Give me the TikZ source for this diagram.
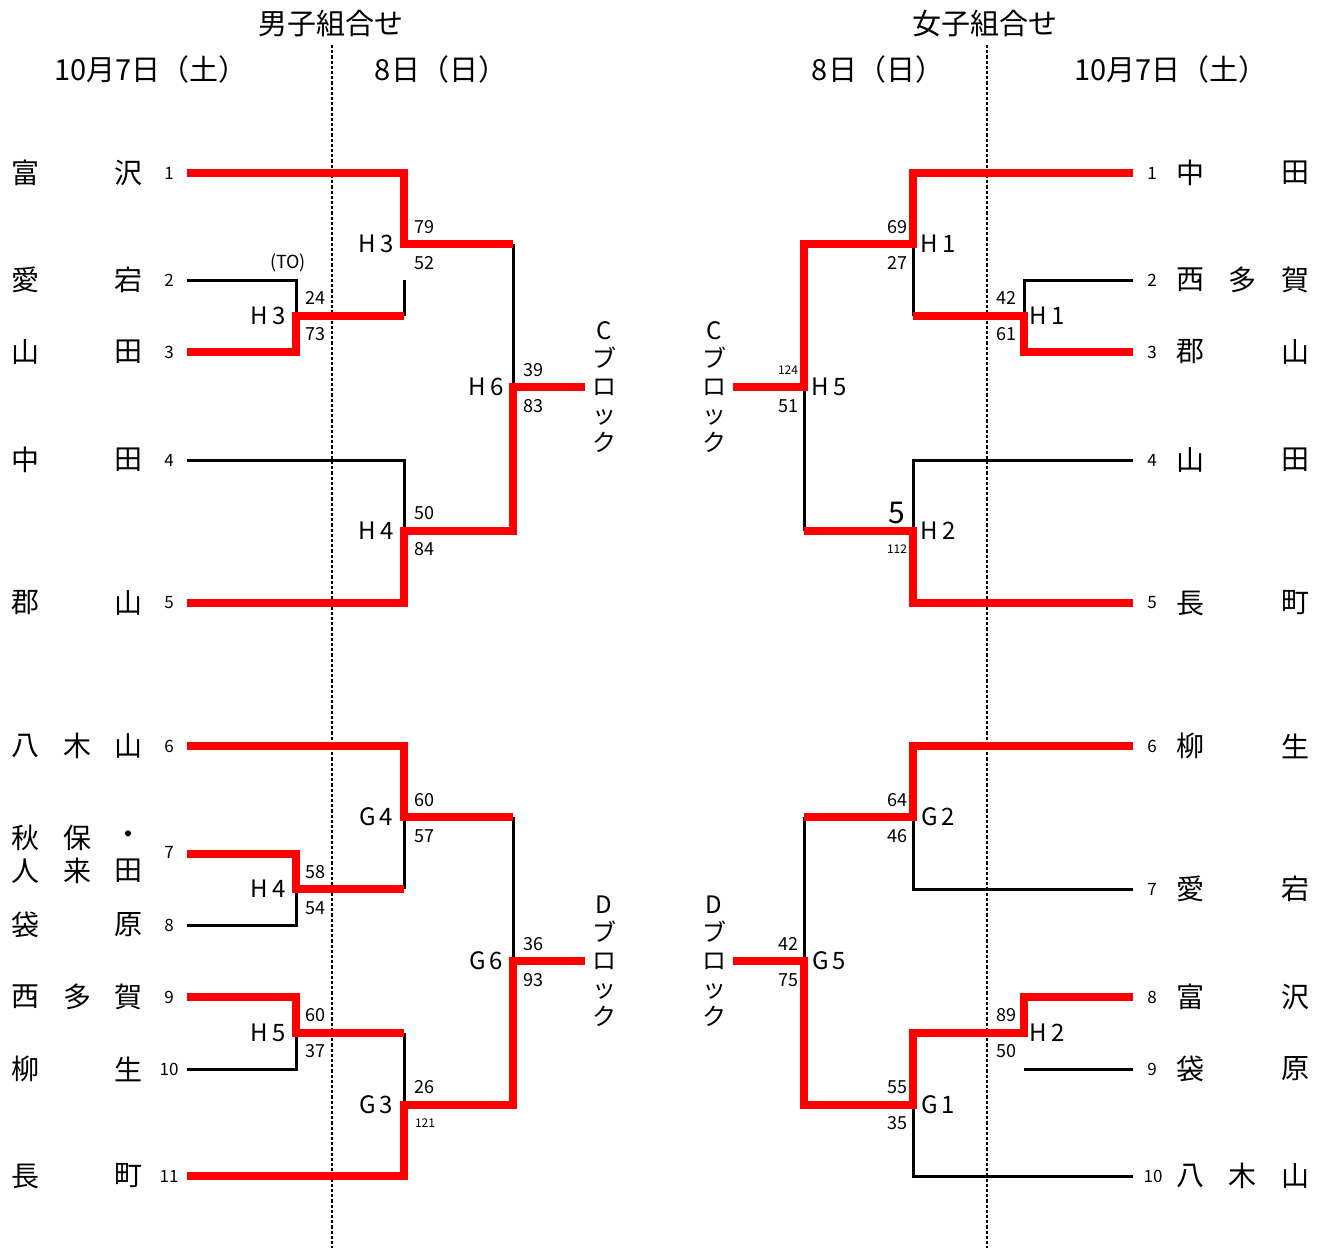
\documentclass[tikz,border=0pt]{standalone}
\usepackage{fontspec}
\setmainfont{Noto Sans CJK JP}
\usetikzlibrary{positioning}

\begin{document}
\begin{tikzpicture}[x=0.5pt,y=-0.5pt]
\tikzstyle{win}=[draw=red, line width=3.6pt]
\tikzstyle{lose}=[draw=black, line width=1.5pt]
\tikzstyle{divider}=[draw=black, line width=1.4pt, dash pattern=on 1.6pt off 1pt]
\tikzstyle{team}=[inner sep=0pt, font=\fontsize{14pt}{16pt}\selectfont]
\tikzstyle{seed}=[inner sep=0pt, font=\fontsize{8.5pt}{10pt}\selectfont]
\tikzstyle{match}=[inner sep=0pt, font=\fontsize{12pt}{14pt}\selectfont]
\tikzstyle{score}=[inner sep=0pt, font=\fontsize{9pt}{10pt}\selectfont]
\tikzstyle{tinynum}=[inner sep=0pt, font=\fontsize{6pt}{7pt}\selectfont]
\tikzstyle{blk}=[inner sep=0pt, align=center, font=\fontsize{12pt}{14pt}\selectfont]
\tikzstyle{hdr}=[inner sep=0pt, font=\fontsize{14.5pt}{16pt}\selectfont]
\useasboundingbox (0,0) rectangle (1325,1248);

% headings
\node[hdr] (mtitle) at (331,24) {男子組合せ};
\node[hdr] (mday1) at (151,69) {10月7日（土）};
\node[hdr] (mday2) at (441,69) {8日（日）};
\node[hdr] (wtitle) at (985,24) {女子組合せ};
\node[hdr] (wday2) at (878,69) {8日（日）};
\node[hdr] (wday1) at (1171,69) {10月7日（土）};
\coordinate (mtop) at (332,45); \coordinate (mbot) at (332,1248);
\coordinate (wtop) at (987,45); \coordinate (wbot) at (987,1248);
\draw[divider] (mtop) -- (mbot);
\draw[divider] (wtop) -- (wbot);

% men, team names
\node[team] (mn1a) at (25,173) {富}; \node[team] (mn1c) at (128,173) {沢};
\node[team] (mn2a) at (25,280) {愛}; \node[team] (mn2c) at (128,280) {宕};
\node[team] (mn3a) at (25,352) {山}; \node[team] (mn3c) at (128,352) {田};
\node[team] (mn4a) at (25,460) {中}; \node[team] (mn4c) at (128,460) {田};
\node[team] (mn5a) at (25,603) {郡}; \node[team] (mn5c) at (128,603) {山};
\node[team] (mn6a) at (25,746) {八}; \node[team] (mn6b) at (77,746) {木}; \node[team] (mn6c) at (128,746) {山};
\node[team] (mn7a) at (25,838) {秋}; \node[team] (mn7b) at (77,838) {保}; \node[team] (mn7c) at (128,838) {・};
\node[team] (mn7d) at (25,871) {人}; \node[team] (mn7e) at (77,871) {来}; \node[team] (mn7f) at (128,871) {田};
\node[team] (mn8a) at (25,925) {袋}; \node[team] (mn8c) at (128,925) {原};
\node[team] (mn9a) at (25,997) {西}; \node[team] (mn9b) at (77,997) {多}; \node[team] (mn9c) at (128,997) {賀};
\node[team] (mn10a) at (25,1069) {柳}; \node[team] (mn10c) at (128,1069) {生};
\node[team] (mn11a) at (25,1176) {長}; \node[team] (mn11c) at (128,1176) {町};
\node[seed] (ms1) at (169,173) {1};
\node[seed] (ms2) at (169,280) {2};
\node[seed] (ms3) at (169,352) {3};
\node[seed] (ms4) at (169,460) {4};
\node[seed] (ms5) at (169,603) {5};
\node[seed] (ms6) at (169,746) {6};
\node[seed] (ms7) at (169,852) {7};
\node[seed] (ms8) at (169,925) {8};
\node[seed] (ms9) at (169,997) {9};
\node[seed] (ms10) at (169,1069) {10};
\node[seed] (ms11) at (169,1176) {11};

% men, bracket
\coordinate (ma1) at (187,173); \coordinate (ma2) at (187,280);
\coordinate (ma3) at (187,352); \coordinate (ma4) at (187,460);
\coordinate (ma5) at (187,603); \coordinate (ma6) at (187,746);
\coordinate (ma7) at (187,854); \coordinate (ma8) at (187,925);
\coordinate (ma9) at (187,997); \coordinate (ma10) at (187,1069);
\coordinate (ma11) at (187,1176);
\coordinate (mjA) at (296,316); \coordinate (mjB) at (404,244);
\coordinate (mjC) at (404,531); \coordinate (mjD) at (513,387);
\coordinate (mjE) at (404,817); \coordinate (mjF) at (296,889);
\coordinate (mjG) at (296,1033); \coordinate (mjH) at (404,1105);
\coordinate (mjI) at (513,961);
\coordinate (mC) at (585,387); \coordinate (mD) at (585,961);
\coordinate (mgap) at (404,280);

\draw[lose] (ma2) -| (mjA);
\draw[lose] (mjA -| mjB) -- (mgap);
\draw[lose] (mjB -| mjD) -- (mjD);
\draw[lose] (ma4) -| (mjC);
\draw[win] (ma3) -| (mjA) -- (mjA -| mjB);
\draw[win] (ma1) -| (mjB) -- (mjB -| mjD);
\draw[win] (ma5) -| (mjC) -| (mjD) -- (mC);

\draw[lose] (mjE -| mjI) -- (mjI);
\draw[lose] (ma8) -| (mjF);
\draw[lose] (mjF -| mjE) -- (mjE);
\draw[lose] (ma10) -| (mjG);
\draw[lose] (mjG -| mjH) -- (mjH);
\draw[win] (ma6) -| (mjE) -- (mjE -| mjI);
\draw[win] (ma7) -| (mjF) -- (mjF -| mjE);
\draw[win] (ma9) -| (mjG) -- (mjG -| mjH);
\draw[win] (ma11) -| (mjH) -| (mjI) -- (mD);

% men, match labels
\node[score] (mto) at (288,263) {(TO)};
\node[score] (mk1) at (315,298) {24}; \node[match] (mm1) at (268,316) {H\,3}; \node[score] (mk2) at (315,334) {73};
\node[score] (mk3) at (424,227) {79}; \node[match] (mm2) at (376,244) {H\,3}; \node[score] (mk4) at (424,263) {52};
\node[score] (mk5) at (424,513) {50}; \node[match] (mm3) at (376,531) {H\,4}; \node[score] (mk6) at (424,549) {84};
\node[score] (mk7) at (533,370) {39}; \node[match] (mm4) at (486,387) {H\,6}; \node[score] (mk8) at (533,406) {83};
\node[score] (mk9) at (424,800) {60}; \node[match] (mm5) at (376,817) {G\,4}; \node[score] (mk10) at (424,836) {57};
\node[score] (mk11) at (315,872) {58}; \node[match] (mm6) at (268,889) {H\,4}; \node[score] (mk12) at (315,908) {54};
\node[score] (mk13) at (315,1015) {60}; \node[match] (mm7) at (268,1033) {H\,5}; \node[score] (mk14) at (315,1051) {37};
\node[score] (mk15) at (424,1087) {26}; \node[match] (mm8) at (376,1105) {G\,3}; \node[tinynum] (mk16) at (425,1123) {121};
\node[score] (mk17) at (533,944) {36}; \node[match] (mm9) at (486,961) {G\,6}; \node[score] (mk18) at (533,980) {93};
\node[blk] (mblkC) at (604,387) {C\\ブ\\ロ\\ッ\\ク};
\node[blk] (mblkD) at (604,961) {D\\ブ\\ロ\\ッ\\ク};

% women, team names
\node[team] (wn1a) at (1190,173) {中}; \node[team] (wn1c) at (1295,173) {田};
\node[team] (wn2a) at (1190,280) {西}; \node[team] (wn2b) at (1242,280) {多}; \node[team] (wn2c) at (1295,280) {賀};
\node[team] (wn3a) at (1190,352) {郡}; \node[team] (wn3c) at (1295,352) {山};
\node[team] (wn4a) at (1190,460) {山}; \node[team] (wn4c) at (1295,460) {田};
\node[team] (wn5a) at (1190,603) {長}; \node[team] (wn5c) at (1295,603) {町};
\node[team] (wn6a) at (1190,746) {柳}; \node[team] (wn6c) at (1295,746) {生};
\node[team] (wn7a) at (1190,889) {愛}; \node[team] (wn7c) at (1295,889) {宕};
\node[team] (wn8a) at (1190,997) {富}; \node[team] (wn8c) at (1295,997) {沢};
\node[team] (wn9a) at (1190,1069) {袋}; \node[team] (wn9c) at (1295,1069) {原};
\node[team] (wn10a) at (1190,1176) {八}; \node[team] (wn10b) at (1242,1176) {木}; \node[team] (wn10c) at (1295,1176) {山};
\node[seed] (ws1) at (1152,173) {1};
\node[seed] (ws2) at (1152,280) {2};
\node[seed] (ws3) at (1152,352) {3};
\node[seed] (ws4) at (1152,460) {4};
\node[seed] (ws5) at (1152,603) {5};
\node[seed] (ws6) at (1152,746) {6};
\node[seed] (ws7) at (1152,889) {7};
\node[seed] (ws8) at (1152,997) {8};
\node[seed] (ws9) at (1152,1069) {9};
\node[seed] (ws10) at (1153,1176) {10};

% women, bracket
\coordinate (wa1) at (1133,173); \coordinate (wa2) at (1133,280);
\coordinate (wa3) at (1133,352); \coordinate (wa4) at (1133,460);
\coordinate (wa5) at (1133,603); \coordinate (wa6) at (1133,746);
\coordinate (wa7) at (1133,889); \coordinate (wa8) at (1133,997);
\coordinate (wa9) at (1133,1069); \coordinate (wa10) at (1133,1176);
\coordinate (wjA) at (1024,316); \coordinate (wjB) at (913,244);
\coordinate (wjC) at (913,531); \coordinate (wjD) at (804,387);
\coordinate (wjE) at (913,817); \coordinate (wjF) at (1024,1033);
\coordinate (wjG) at (913,1105); \coordinate (wjH) at (804,961);
\coordinate (wC) at (733,387); \coordinate (wD) at (733,961);

\draw[lose] (wa2) -| (wjA);
\draw[lose] (wjA -| wjB) -- (wjB);
\draw[lose] (wjD) -- (wjD |- wjC);
\draw[lose] (wa4) -| (wjC);
\draw[win] (wa3) -| (wjA) -- (wjA -| wjB);
\draw[win] (wa1) -| (wjB) -| (wjD) -- (wC);
\draw[win] (wa5) -| (wjC) -- (wjC -| wjD);

\draw[lose] (wjE -| wjH) -- (wjH);
\draw[lose] (wa7) -| (wjE);
\draw[lose] (wa9) -- (wa9 -| wjF);
\draw[lose] (wa10) -| (wjG);
\draw[win] (wa6) -| (wjE) -- (wjE -| wjH);
\draw[win] (wa8) -| (wjF) -| (wjG) -| (wjH) -- (wD);

% women, match labels
\node[score] (wk1) at (897,227) {69}; \node[match] (wm1) at (938,244) {H\,1}; \node[score] (wk2) at (897,263) {27};
\node[score] (wk3) at (1006,298) {42}; \node[match] (wm2) at (1047,316) {H\,1}; \node[score] (wk4) at (1006,334) {61};
\node[tinynum] (wk5) at (788,370) {124}; \node[match] (wm3) at (829,387) {H\,5}; \node[score] (wk6) at (788,406) {51};
\node[match, font=\fontsize{15pt}{17pt}\selectfont] (wk7) at (897,513) {5}; \node[match] (wm4) at (938,531) {H\,2}; \node[tinynum] (wk8) at (897,549) {112};
\node[score] (wk9) at (897,800) {64}; \node[match] (wm5) at (938,817) {G\,2}; \node[score] (wk10) at (897,836) {46};
\node[score] (wk11) at (788,944) {42}; \node[match] (wm6) at (829,961) {G\,5}; \node[score] (wk12) at (788,980) {75};
\node[score] (wk13) at (1006,1015) {89}; \node[match] (wm7) at (1047,1033) {H\,2}; \node[score] (wk14) at (1006,1051) {50};
\node[score] (wk15) at (897,1087) {55}; \node[match] (wm8) at (938,1105) {G\,1}; \node[score] (wk16) at (897,1123) {35};
\node[blk] (wblkC) at (714,387) {C\\ブ\\ロ\\ッ\\ク};
\node[blk] (wblkD) at (714,961) {D\\ブ\\ロ\\ッ\\ク};
\end{tikzpicture}
\end{document}
